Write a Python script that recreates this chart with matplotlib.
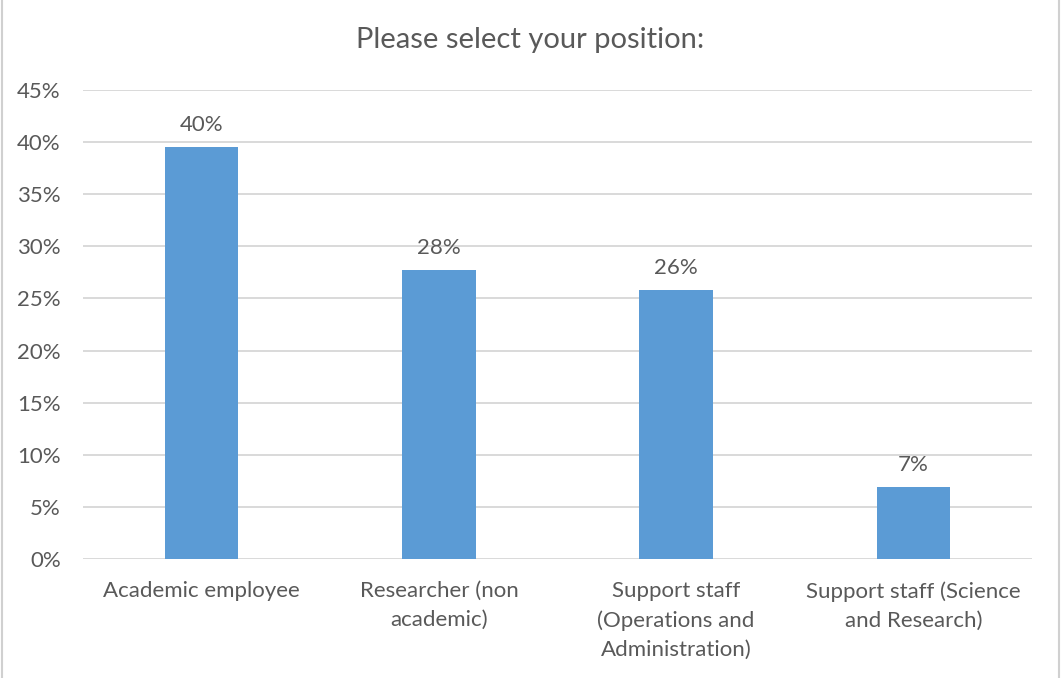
import matplotlib
matplotlib.use("Agg")
import matplotlib.pyplot as plt
from matplotlib.lines import Line2D
from matplotlib.ticker import PercentFormatter

categories = [
    "Academic employee",
    "Researcher (non\nacademic)",
    "Support staff\n(Operations and\nAdministration)",
    "Support staff (Science\nand Research)",
]
shares = [0.395, 0.277, 0.258, 0.069]
y_ticks = [0.0, 0.05, 0.10, 0.15, 0.20, 0.25, 0.30, 0.35, 0.40, 0.45]

TEXT = "#595959"
BAR = "#5B9BD5"
GRID = "#D9D9D9"

plt.rcParams["font.family"] = ["Lato", "DejaVu Sans"]

fig = plt.figure(figsize=(10.61, 6.78), dpi=100)
ax = fig.add_axes([83 / 1061, 1 - 559 / 678, 949 / 1061, 469 / 678])

x = range(len(categories))
bars = ax.bar(x, shares, width=0.31, color=BAR, zorder=3)

for rect, v in zip(bars, shares):
    ax.annotate(f"{v:.0%}", (rect.get_x() + rect.get_width() / 2, v),
                xytext=(0, 9), textcoords="offset points",
                ha="center", va="bottom", fontsize=16, color=TEXT)

ax.set_xlim(-0.5, len(categories) - 0.5)
ax.set_ylim(0, 0.45)
ax.set_yticks(y_ticks)
ax.yaxis.set_major_formatter(PercentFormatter(1.0, decimals=0))
ax.set_xticks(list(x))
ax.set_xticklabels(categories, linespacing=1.56)

ax.tick_params(axis="both", length=0, labelsize=16, labelcolor=TEXT)
ax.tick_params(axis="x", pad=16)
ax.tick_params(axis="y", pad=16)
ax.grid(axis="y", color=GRID, linewidth=1.4, zorder=0)
for side in ["top", "right", "left", "bottom"]:
    ax.spines[side].set_visible(False)

fig.text(0.5, 1 - 40 / 678, "Please select your position:",
         ha="center", va="center", fontsize=21, color=TEXT)

# thin chart-area frame at the sides
fig.add_artist(Line2D([2 / 1061, 2 / 1061], [0, 1], color="#D0D0D0", lw=1.5,
                      transform=fig.transFigure))
fig.add_artist(Line2D([1059 / 1061, 1059 / 1061], [0, 1], color="#D0D0D0", lw=1.5,
                      transform=fig.transFigure))

fig.savefig("out.png", dpi=100, facecolor="white")
